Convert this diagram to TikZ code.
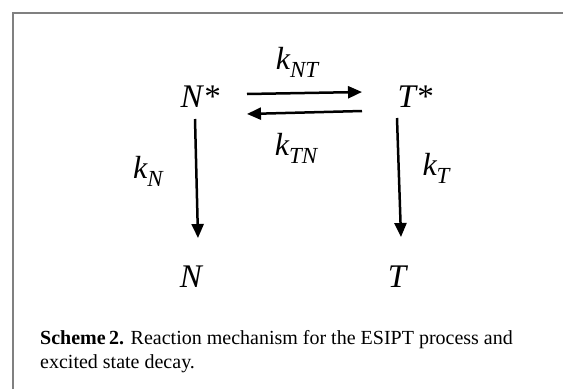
\documentclass[tikz,border=0pt]{standalone}
\usepackage{fontspec}
\setmainfont{Liberation Serif}
\usepackage{amsmath,amssymb,xcolor}
\usetikzlibrary{arrows.meta}

% lowered, smaller index for the rate constants
\newcommand\ratesub[1]{\raisebox{-0.25em}{\fontsize{23}{27}\selectfont #1}}

\tikzset{
  species/.style={anchor=base,inner sep=0pt,font=\fontsize{33}{38}\selectfont\itshape},
  rate/.style={anchor=base,inner sep=0pt,font=\fontsize{32}{37}\selectfont\itshape},
  rxn/.style={line width=2.5pt,-{Triangle[length=14pt,width=12pt]}},
}

\begin{document}
\begin{tikzpicture}[x=1pt,y=1pt,yscale=-1,xscale=1]
\useasboundingbox (0,0) rectangle (563,389);

\draw [color={rgb, 255:red, 128; green, 128; blue, 128 }  ,line width=1.5pt ]   (13,389) -- (13,13) -- (563,13) ;

% species
\node [species] (Nstar) at (200,107) {N*};
\node [species] (Tstar) at (415,107) {T*};
\node [species] (N) at (191,287) {N};
\node [species] (T) at (397,287) {T};

% rate constants
\node [rate] (kNT) at (297,69) {k\ratesub{NT}};
\node [rate] (kTN) at (296,155) {k\ratesub{TN}};
\node [rate] (kN) at (148,178) {k\ratesub{N}};
\node [rate] (kT) at (436,175) {k\ratesub{T}};

\draw [rxn] ([xshift=47pt,yshift=-13pt]Nstar.base) -- ([xshift=-53pt,yshift=-15pt]Tstar.base) ;

\draw [rxn] ([xshift=-53pt,yshift=4pt]Tstar.base) -- ([xshift=47pt,yshift=7pt]Nstar.base) ;

\draw [rxn] ([xshift=-5pt,yshift=12pt]Nstar.base) -- ([xshift=7pt,yshift=-49pt]N.base) ;

\draw [rxn] ([xshift=-18pt,yshift=11pt]Tstar.base) -- ([xshift=4pt,yshift=-50pt]T.base) ;

% caption
\node [anchor=base west,inner sep=0pt,align=left,font=\fontsize{20}{24}\selectfont] (caption) at (40,368) {\textbf{Scheme\,2.} Reaction mechanism for the ESIPT process and\\excited state decay.};

\end{tikzpicture}
\end{document}
